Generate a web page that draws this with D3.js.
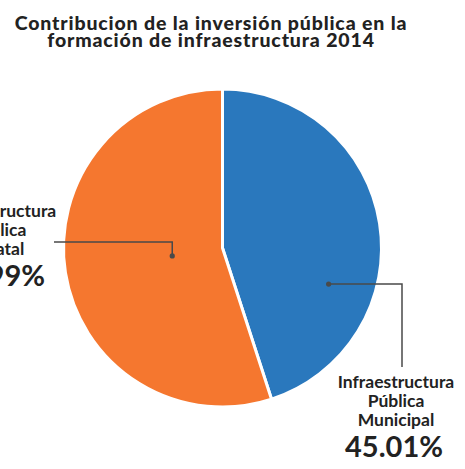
<!DOCTYPE html>
<html>
<head>
<meta charset="utf-8">
<script src="https://cdn.jsdelivr.net/npm/d3@7"></script>
<style>
  body { margin: 0; background: #fff; }
  text { font-family: "Lato", "Noto Sans", sans-serif; fill: #222; }
</style>
</head>
<body>
<svg id="chart"></svg>
<script>
// DATA
const titleLines = ["Contribucion de la inversión pública en la", "formación de infraestructura 2014"];
const labelLines = [["Infraestructura", "Pública", "Municipal"], ["Infraestructura", "Pública", "Estatal"]];
const values = [45.01, 54.99];
const colors = ["#2a78bd", "#f5772f"];

const width = 465, height = 469;
const cx = 222.5, cy = 248, radius = 159;

const svg = d3.select("#chart")
    .attr("width", width)
    .attr("height", height);

// TITLE
svg.append("g").selectAll("text")
    .data(titleLines)
    .enter()
    .append("text")
    .attr("x", 211)
    .attr("y", (d, i) => 30 + i * 17)
    .attr("text-anchor", "middle")
    .attr("font-size", "19.5px")
    .attr("font-weight", 900)
    .attr("letter-spacing", "0.85px")
    .text(d => d);

// PIE
const pie = d3.pie().sort(null).value(d => d);
const arcs = pie(values);
const arc = d3.arc().innerRadius(0).outerRadius(radius);

const g = svg.append("g").attr("transform", `translate(${cx},${cy})`);

g.selectAll("path")
    .data(arcs)
    .enter()
    .append("path")
    .attr("d", arc)
    .attr("fill", (d, i) => colors[i])
    .attr("stroke", "#fff")
    .attr("stroke-width", 3)
    .attr("stroke-linejoin", "round");

// LEADERS + LABELS (dot placed by angle in degrees from top and radius fraction)
const leaders = [
    { angle: 108.8, r: 0.705, elbowX: 402, endY: 367, labelX: 396, labelY: 388 },
    { angle: null, r: 0.32, elbowY: 242, endX: 54, labelX: -2, labelY: 217 }
];

arcs.forEach((a, i) => {
    const L = leaders[i];
    const ang = L.angle !== null ? L.angle * Math.PI / 180 : (a.startAngle + a.endAngle) / 2;
    const dx = cx + Math.sin(ang) * radius * L.r;
    const dy = cy - Math.cos(ang) * radius * L.r;
    let pts;
    if (i === 0) {
        pts = [[dx, dy], [L.elbowX, dy], [L.elbowX, L.endY]];
    } else {
        pts = [[dx, dy], [dx, L.elbowY], [L.endX, L.elbowY]];
    }
    svg.append("path")
        .attr("d", d3.line()(pts))
        .attr("fill", "none")
        .attr("stroke", "#4a4a4a")
        .attr("stroke-width", 1.5);
    svg.append("circle")
        .attr("cx", dx).attr("cy", dy).attr("r", 2.6)
        .attr("fill", "#4a4a4a");

    const lbl = svg.append("g");
    labelLines[i].forEach((t, j) => {
        lbl.append("text")
            .attr("x", L.labelX)
            .attr("y", L.labelY + j * 19)
            .attr("text-anchor", "middle")
            .attr("font-size", "17.5px")
            .attr("font-weight", 700)
            .text(t);
    });
    lbl.append("text")
        .attr("x", L.labelX - 2)
        .attr("y", L.labelY + 69)
        .attr("text-anchor", "middle")
        .attr("font-size", "29px")
        .attr("font-weight", 700)
        .text(d3.format(".2f")(values[i]) + "%");
});
</script>
</body>
</html>
